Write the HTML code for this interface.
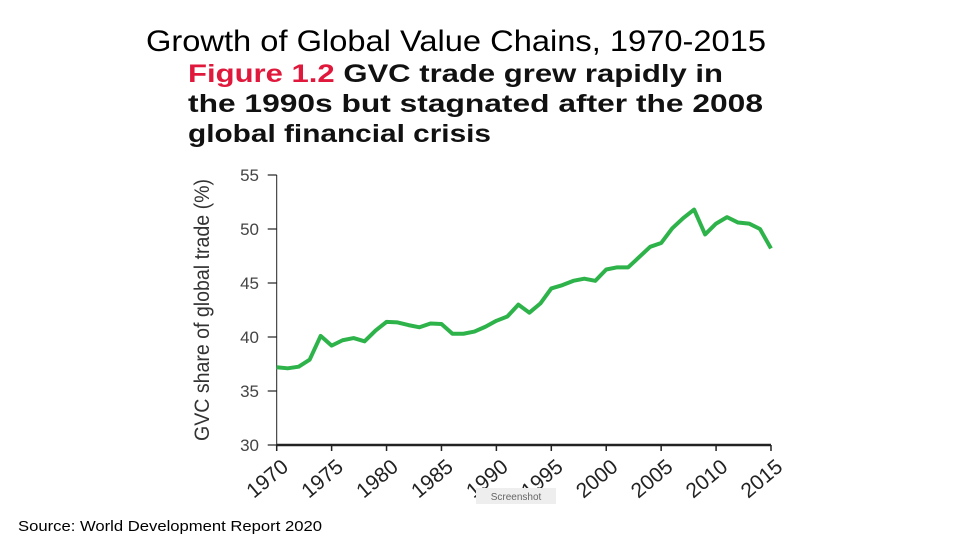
<!DOCTYPE html>
<html><head><meta charset="utf-8"><style>
html,body{margin:0;padding:0;background:#fff;}
svg{display:block;font-family:"Liberation Sans",sans-serif;}
</style></head><body>
<svg width="960" height="540" viewBox="0 0 960 540">
<text x="456" y="51" font-size="30" text-anchor="middle" fill="#000" textLength="620" lengthAdjust="spacingAndGlyphs">Growth of Global Value Chains, 1970-2015</text>
<g font-weight="bold" font-size="25">
<text x="188" y="82" textLength="535" lengthAdjust="spacingAndGlyphs"><tspan fill="#e0193c">Figure 1.2</tspan><tspan fill="#111"> GVC trade grew rapidly in</tspan></text>
<text x="188" y="112" fill="#111" textLength="575" lengthAdjust="spacingAndGlyphs">the 1990s but stagnated after the 2008</text>
<text x="188" y="142" fill="#111" textLength="303" lengthAdjust="spacingAndGlyphs">global financial crisis</text>
</g>
<text transform="translate(209,310) rotate(-90)" font-size="21" fill="#333" text-anchor="middle" textLength="262" lengthAdjust="spacingAndGlyphs">GVC share of global trade (%)</text>
<g id="chart"></g>
<rect x="476" y="488" width="80" height="16" fill="#eee"/>
<text x="516" y="500" font-size="10" fill="#666" text-anchor="middle">Screenshot</text>
<text x="18" y="531" font-size="15" fill="#000" textLength="304" lengthAdjust="spacingAndGlyphs">Source:  World Development Report 2020</text>
</svg>
<script>
const years=[1970,1971,1972,1973,1974,1975,1976,1977,1978,1979,1980,1981,1982,1983,1984,1985,1986,1987,1988,1989,1990,1991,1992,1993,1994,1995,1996,1997,1998,1999,2000,2001,2002,2003,2004,2005,2006,2007,2008,2009,2010,2011,2012,2013,2014,2015];
const gvcShare=[37.2,37.1,37.25,37.9,40.1,39.2,39.7,39.9,39.6,40.6,41.4,41.35,41.1,40.9,41.25,41.2,40.3,40.3,40.5,40.95,41.5,41.9,43.0,42.25,43.1,44.5,44.8,45.2,45.4,45.2,46.25,46.45,46.45,47.4,48.35,48.7,50.05,51.0,51.8,49.5,50.5,51.1,50.6,50.5,50.0,48.2];
const yTicks=[30,35,40,45,50,55];
const xTicks=[1970,1975,1980,1985,1990,1995,2000,2005,2010,2015];
const NS="http://www.w3.org/2000/svg";
const g=document.getElementById('chart');
const X0=276.7,X1=771,Y0=445,Y1=175;
const xs=v=>X0+(v-1970)/(2015-1970)*(X1-X0);
const ys=v=>Y0-(v-30)/(55-30)*(Y0-Y1);
function mk(t,a){const e=document.createElementNS(NS,t);for(const k in a)e.setAttribute(k,a[k]);g.appendChild(e);return e;}
let e=mk('line',{x1:X0,y1:Y1,x2:X0,y2:Y0,stroke:'#222','stroke-width':1});


e=mk('line',{x1:X0,y1:Y0,x2:X1,y2:Y0,stroke:'#222','stroke-width':2.5});


yTicks.forEach(v=>{
 const t=mk('line',{x1:X0-9,y1:ys(v),x2:X0,y2:ys(v),stroke:'#222','stroke-width':1.2});
 
 
 const l=mk('text',{x:259,y:ys(v)+6,'font-size':17,fill:'#444','text-anchor':'end'});
 l.textContent=v;
 
 
});
xTicks.forEach(v=>{
 const t=mk('line',{x1:xs(v),y1:Y0,x2:xs(v),y2:Y0+6,stroke:'#222','stroke-width':1.5});
 
 
 const l=mk('text',{transform:`translate(${xs(v)+13},${Y0+24}) rotate(-40)`,'font-size':21,fill:'#222','text-anchor':'end'});
 l.textContent=v;
 
 
});
const p=mk('polyline',{points:years.map((y,i)=>xs(y)+','+ys(gvcShare[i])).join(' '),fill:'none',stroke:'#2db34a','stroke-width':4,'stroke-linejoin':'round'});


</script>
</body></html>
